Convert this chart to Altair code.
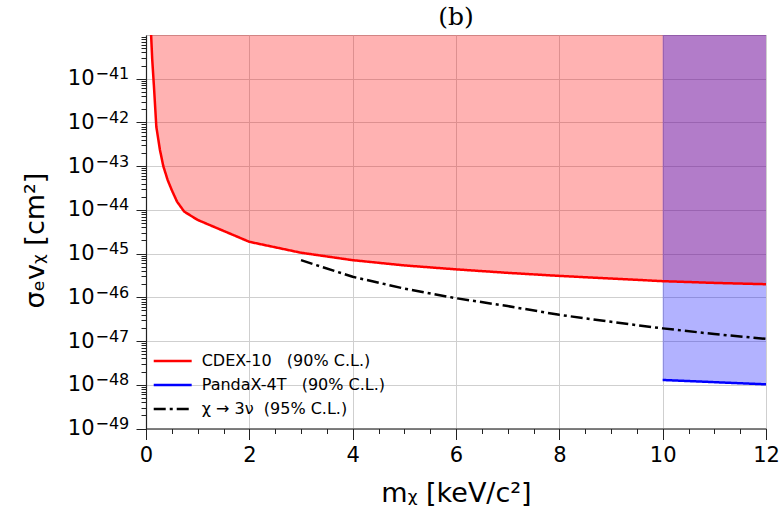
import altair as alt
import pandas as pd

# ---------------- data ----------------
cdex_mass = [0.095, 0.12, 0.155, 0.2, 0.27, 0.335, 0.42, 0.5, 0.6, 0.74, 1.0,
             2.0, 3.0, 4.0, 5.0, 6.0, 7.0, 8.0, 9.0, 10.0, 11.0, 12.0]
cdex_log10_sigma = [-39.9, -40.55, -41.2, -42.1, -42.63, -43.0, -43.32, -43.55, -43.81,
                    -44.04, -44.23, -44.73, -44.98, -45.15, -45.27, -45.36, -45.44,
                    -45.51, -45.57, -45.63, -45.67, -45.70]

pandax_mass = [10.0, 12.0]
pandax_log10_sigma = [-47.89, -47.99]

nu_mass = [3.0, 4.0, 5.0, 6.0, 7.0, 8.0, 9.0, 10.0, 11.0, 12.0]
nu_log10_sigma = [-45.15, -45.53, -45.8, -46.02, -46.2, -46.40, -46.56, -46.71, -46.84, -46.95]

series_names = ["CDEX-10\u00a0\u00a0\u00a0(90% C.L.)",
                "PandaX-4T\u00a0\u00a0\u00a0(90% C.L.)",
                "\u03c7 \u2192 3\u03bd\u00a0\u00a0(95% C.L.)"]
series_colors = ["#ff0000", "#0000ff", "#000000"]
series_dashes = [[1, 0], [1, 0], [12, 4, 3, 4]]

y_exponents = list(range(-49, -40))      # labelled decades 1e-49 .. 1e-41
y_min, y_max = 1e-49, 1e-40
x_ticks = [i * 0.5 for i in range(25)]    # 0 .. 12 step 0.5 (majors every 2)

# ---------------- tables ----------------
def table(mass, logs, name):
    return pd.DataFrame({"mass": mass, "sigma": [10.0 ** v for v in logs], "series": name})

cdex_df = table(cdex_mass, cdex_log10_sigma, series_names[0])
pandax_df = table(pandax_mass, pandax_log10_sigma, series_names[1])
nu_df = table(nu_mass, nu_log10_sigma, series_names[2])
lines_df = pd.concat([cdex_df, pandax_df, nu_df], ignore_index=True)

# ---------------- axes ----------------
y_major_vals = [float(f"1e{e}") for e in y_exponents]
y_tick_values = []
for e in range(-49, -40):
    for k in range(1, 10):
        y_tick_values.append(float(f"{k}e{e}"))

base_expr = ""
exp_expr = ""
for e in y_exponents:
    base_expr += f"datum.value == 1e{e} ? '10' : "
    exp_expr += f"datum.value == 1e{e} ? '\u2212{abs(e)}' : "
base_expr += "''"
exp_expr += "''"

major_y = "abs(log(datum.value)/LN10 - round(log(datum.value)/LN10)) < 0.001"
major_x = "abs(datum.value % 2) < 0.001"

common_axis = dict(
    labelFont="DejaVu Sans", labelFontSize=21, labelColor="black",
    titleFont="DejaVu Sans", titleFontSize=27, titleFontWeight="normal", titleColor="black",
    domainColor="#222222", domainWidth=1.2, tickColor="#222222", tickWidth=1,
    gridColor="#cfcfcf", gridWidth=1, labelOverlap=False, labelFlush=False, labelLimit=300,
)

y_axis = alt.Axis(
    orient="left", values=y_tick_values, labelExpr=base_expr,
    tickSize={"condition": {"test": major_y, "value": 10}, "value": 5},
    gridOpacity={"condition": {"test": major_y, "value": 1}, "value": 0},
    labelPadding=42, titleX=-103, titleY=205, titleBaseline="alphabetic",
    titleAngle=270, titleAlign="center",
    **common_axis,
)
# superscript exponents of the y tick labels (10^-41 ...)
y_exp_axis = alt.Axis(
    orient="left", values=y_major_vals, labelExpr=exp_expr, title=None,
    ticks=False, tickSize=0, domain=False, grid=False,
    labelPadding=51, labelAlign="left", labelBaseline="alphabetic",
    labelFont="DejaVu Sans", labelFontSize=16, labelColor="black",
    labelOverlap=False, labelFlush=False, labelLimit=300,
)
x_axis = alt.Axis(
    values=x_ticks, labelExpr=f"{major_x} ? format(datum.value, 'd') : ''",
    tickSize={"condition": {"test": major_x, "value": 11}, "value": 5},
    gridOpacity={"condition": {"test": major_x, "value": 1}, "value": 0},
    labelPadding=5, titleY=72.5, titleBaseline="alphabetic",
    **common_axis,
)

x_enc = alt.X("mass:Q", title="m\u1d6a [keV/c\u00b2]",
              scale=alt.Scale(domain=[0, 12], nice=False, zero=False), axis=x_axis)
y_scale = alt.Scale(type="log", domain=[y_min, y_max], nice=False)
y_enc = alt.Y("sigma:Q", title="\u03c3\u2091v\u1d6a [cm\u00b2]", scale=y_scale, axis=y_axis)
y_enc_exp = alt.Y("sigma:Q", title=None, scale=y_scale, axis=y_exp_axis)
y_enc_plain = alt.Y("sigma:Q", title=None, scale=y_scale, axis=None)

# ---------------- layers ----------------
red_area = alt.Chart(cdex_df).mark_area(color="#ff0000", opacity=0.3, clip=True).encode(
    x=x_enc, y=y_enc, y2=alt.datum(y_max))
blue_area = alt.Chart(pandax_df).mark_area(color="#0000ff", opacity=0.3, clip=True).encode(
    x=x_enc, y=y_enc_exp, y2=alt.datum(y_max))

legend = alt.Legend(
    title=None, orient="none", legendX=18.7, legendY=318,
    symbolType="M-3,0H3", symbolSize=160, symbolStrokeWidth=2.5,
    labelFont="DejaVu Sans", labelFontSize=16, labelColor="black", labelLimit=500,
    labelOffset=21, rowPadding=8, padding=0,
)
lines = alt.Chart(lines_df).mark_line(strokeWidth=2.5, clip=True).encode(
    x=x_enc, y=y_enc_plain,
    color=alt.Color("series:N", scale=alt.Scale(domain=series_names, range=series_colors),
                    sort=series_names, legend=legend),
    strokeDash=alt.StrokeDash("series:N", scale=alt.Scale(domain=series_names, range=series_dashes),
                              sort=series_names, legend=legend),
    order=alt.Order("mass:Q"),
)

chart = alt.layer(red_area, blue_area, lines).resolve_axis(y="independent").properties(
    width=620, height=393.5,
    title=alt.TitleParams("(b)", font="DejaVu Serif", fontSize=25, fontWeight="normal",
                          anchor="middle", baseline="alphabetic", offset=8, dy=32, color="black"),
    autosize=alt.AutoSizeParams(type="none"),
    padding={"left": 146, "top": 35, "right": 18, "bottom": 81.5},
).configure_view(stroke="#bdbdbd", strokeWidth=1)

chart.save("out.html", embed_options={"renderer": "svg", "actions": False})
